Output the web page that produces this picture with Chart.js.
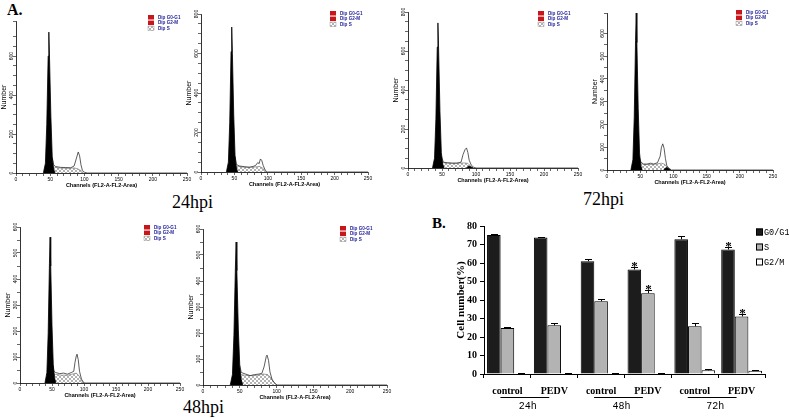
<!DOCTYPE html>
<html>
<head>
<meta charset="utf-8">
<script src="https://cdn.jsdelivr.net/npm/chart.js@4.4.1/dist/chart.umd.min.js"></script>
<style>
body { margin: 0; background: #fff; width: 789px; height: 418px; position: relative; overflow: hidden; }
canvas { position: absolute; }
.lbl { position: absolute; font-family: "Liberation Serif", serif; color: #000; line-height: 1; white-space: nowrap; }
</style>
</head>
<body>
<div class="lbl" style="left:7px;top:2px;font-size:16px;font-weight:bold">A.</div>
<div class="lbl" style="left:172px;top:193px;font-size:18px">24hpi</div>
<div class="lbl" style="left:583px;top:190px;font-size:18px">72hpi</div>
<div class="lbl" style="left:183px;top:398px;font-size:18px">48hpi</div>
<div class="lbl" style="left:432px;top:216px;font-size:15px;font-weight:bold">B.</div>
<canvas id="barChart" width="349" height="203" style="left:440px;top:215px"></canvas>
<script>
// ---- panel A: DNA histograms, points are [channel, count] ----
const legendLabels = ['Dip G0-G1', 'Dip G2-M', 'Dip S'];
const channelTicks = [0, 50, 100, 150, 200, 250];

// 24hpi control
const h24cG1 = [[40,0],[43,50],[45,250],[47,600],[48,723],[49,590],[51,290],[53,80],[55,20],[57,0]];
const h24cS = [[50,0],[52,34],[56,30],[62,26],[70,25],[78,24],[85,26],[90,22],[95,12],[99,0]];
const h24cTot = [[53,80],[55,42],[58,33],[65,29],[72,28],[80,27],[85,36],[88,72],[91,108],[93,88],[95,42],[97,14],[100,4],[104,0],[250,0]];
const h24cG2 = [];
// 24hpi PEDV
const h24pG1 = [[38,0],[41,50],[43,250],[45,610],[46,734],[47,600],[49,290],[51,80],[53,20],[55,0]];
const h24pS = [[49,0],[51,30],[56,28],[65,24],[75,24],[82,26],[88,28],[93,18],[97,0]];
const h24pTot = [[51,80],[53,38],[58,30],[65,27],[72,24],[78,28],[82,34],[85,48],[87,42],[89,66],[91,58],[93,34],[96,10],[99,0],[250,0]];
const h24pG2 = [];
// 72hpi control
const h72cG1 = [[36,0],[39,50],[41,250],[43,620],[44,744],[45,610],[47,290],[49,80],[51,20],[53,0]];
const h72cS = [[47,0],[49,28],[55,26],[65,24],[75,25],[82,26],[88,24],[92,10],[95,0]];
const h72cTot = [[49,60],[52,30],[58,27],[65,25],[72,25],[78,30],[81,70],[84,95],[86,103],[88,80],[90,40],[93,15],[96,5],[100,0],[250,0]];
const h72cG2 = [[86,0],[88,7],[90,10],[93,5],[96,0]];
// 72hpi PEDV
const h72pG1 = [[36,0],[39,45],[41,230],[43,570],[44,690],[45,560],[47,270],[49,75],[51,18],[53,0]];
const h72pS = [[47,0],[49,30],[55,25],[65,24],[75,26],[82,30],[87,25],[91,10],[94,0]];
const h72pTot = [[48,60],[51,35],[55,26],[60,26],[66,30],[70,26],[76,32],[80,60],[82,100],[84,115],[86,95],[88,50],[90,20],[93,8],[97,0],[250,0]];
const h72pG2 = [[85,0],[88,8],[90,11],[93,6],[96,0]];
// 48hpi control
const h48cG1 = [[39,0],[42,40],[44,190],[46,460],[47,561],[48,450],[50,220],[52,70],[54,20],[56,0]];
const h48cS = [[49,0],[51,35],[56,33],[65,30],[75,30],[83,35],[88,38],[92,28],[96,10],[99,0]];
const h48cTot = [[51,70],[53,45],[56,40],[62,36],[68,38],[74,34],[80,40],[84,45],[86,80],[88,105],[89,111],[91,90],[93,45],[96,15],[100,0],[250,0]];
const h48cG2 = [];
// 48hpi PEDV
const h48pG1 = [[37,0],[40,40],[42,190],[44,450],[45,550],[46,440],[48,215],[50,70],[52,20],[54,0]];
const h48pS = [[48,0],[50,40],[56,38],[65,36],[75,38],[82,42],[88,40],[93,25],[97,8],[100,0]];
const h48pTot = [[50,75],[52,48],[58,42],[64,36],[70,40],[76,42],[80,45],[83,70],[86,110],[87,115],[89,95],[91,50],[94,20],[98,5],[101,0],[250,0]];
const h48pG2 = [];

// ---- panel B: cell cycle percentages ----
const groups = ['24h', '48h', '72h'];
const treatments = ['control', 'PEDV', 'control', 'PEDV', 'control', 'PEDV'];
const phaseNames = ['G0/G1', 'S', 'G2/M'];
const g0g1 = [75.1, 73.8, 61.0, 56.5, 72.8, 67.3];
const sPhase = [24.9, 26.3, 39.3, 43.7, 25.8, 31.1];
const g2m = [0.3, 0.3, 0.3, 0.3, 2.0, 1.8];
const g0g1Err = [0.5, 0.5, 1.4, 1.3, 1.8, 1.1];
const sErr = [0.7, 1.1, 1.1, 1.6, 1.6, 1.4];
const g2mErr = [0.1, 0.1, 0.1, 0.1, 0.5, 0.1];
const g0g1Sig = [0, 0, 0, 1, 0, 1];
const sSig = [0, 0, 0, 1, 0, 1];
const g2mSig = [0, 0, 0, 0, 0, 0];

Chart.defaults.font.family = '"Liberation Sans", Arial, sans-serif';
Chart.defaults.color = '#000';

// crosshatch for the S phase area
const pc = document.createElement('canvas');
pc.width = 4; pc.height = 4;
const pg = pc.getContext('2d');
pg.strokeStyle = '#808080';
pg.lineWidth = 0.6;
pg.beginPath();
pg.moveTo(0, 4); pg.lineTo(4, 0);
pg.moveTo(0, 0); pg.lineTo(4, 4);
pg.stroke();
const hatch = pg.createPattern(pc, 'repeat');

const insetLegend = {
  id: 'insetLegend',
  afterDraw(chart, args, opts) {
    const ctx = chart.ctx;
    ctx.save();
    legendLabels.forEach((t, i) => {
      const y = opts.y + i * 5.6;
      ctx.fillStyle = i < 2 ? '#c8161d' : hatch;
      ctx.fillRect(opts.x, y, 6, 4.5);
      if (i == 2) {
        ctx.strokeStyle = '#999';
        ctx.lineWidth = 0.5;
        ctx.strokeRect(opts.x, y, 6, 4.5);
      }
      ctx.fillStyle = '#22229a';
      ctx.font = 'bold 4.6px "Liberation Sans"';
      ctx.textBaseline = 'middle';
      ctx.fillText(t, opts.x + 10, y + 2.4);
    });
    ctx.restore();
  }
};

const histPanels = [
  {x0: 16,  x1: 187, base: 173, ppu: 0.195,  yMax: 780, step: 200, lx: 148, ly: 15,  g1: h24cG1, s: h24cS, tot: h24cTot, g2: h24cG2},
  {x0: 201, x1: 368, base: 172, ppu: 0.1975, yMax: 800, step: 200, lx: 330, ly: 11,  g1: h24pG1, s: h24pS, tot: h24pTot, g2: h24pG2},
  {x0: 408, x1: 578, base: 168, ppu: 0.195,  yMax: 800, step: 200, lx: 538, ly: 11,  g1: h72cG1, s: h72cS, tot: h72cTot, g2: h72cG2},
  {x0: 607, x1: 773, base: 170, ppu: 0.227,  yMax: 690, step: 100, lx: 736, ly: 10,  g1: h72pG1, s: h72pS, tot: h72pTot, g2: h72pG2},
  {x0: 20,  x1: 180, base: 383, ppu: 0.26,   yMax: 600, step: 100, lx: 144, ly: 225, g1: h48cG1, s: h48cS, tot: h48cTot, g2: h48cG2},
  {x0: 203, x1: 387, base: 385, ppu: 0.26,   yMax: 600, step: 100, lx: 340, ly: 226, g1: h48pG1, s: h48pS, tot: h48pTot, g2: h48pG2}
];

function histChart(p) {
  const left = p.x0 - 16;
  const top = Math.round(p.base - p.yMax * p.ppu) - 10;
  const width = p.x1 - left + 8;
  const height = p.base + 16 - top;
  const cv = document.createElement('canvas');
  cv.width = width; cv.height = height;
  cv.style.left = left + 'px';
  cv.style.top = top + 'px';
  document.body.appendChild(cv);
  new Chart(cv, {
    type: 'line',
    data: {
      datasets: [
        {data: p.g1, backgroundColor: '#000', borderColor: '#000', borderWidth: 0.8, fill: 'origin'},
        {data: p.g2, backgroundColor: '#000', borderColor: '#000', borderWidth: 0.8, fill: 'origin'},
        {data: p.tot, borderColor: '#333', borderWidth: 0.8, fill: false},
        {data: p.s, backgroundColor: hatch, borderColor: '#666', borderWidth: 0.6, fill: 'origin'}
      ]
    },
    options: {
      responsive: false,
      animation: false,
      devicePixelRatio: 1,
      events: [],
      elements: {point: {radius: 0}, line: {tension: 0}},
      layout: {autoPadding: false, padding: {left: 0, right: 8, top: 10, bottom: 0}},
      plugins: {
        legend: {display: false},
        tooltip: {enabled: false},
        insetLegend: {x: p.lx - left, y: p.ly - top}
      },
      scales: {
        x: {
          type: 'linear', min: 0, max: 250,
          afterFit(s) { s.height = 16; },
          ticks: {stepSize: 10, autoSkip: false, maxRotation: 0, padding: 1, font: {size: 5},
                  callback: v => channelTicks.includes(v) ? v : ''},
          grid: {drawOnChartArea: false, tickLength: 3, color: '#000', lineWidth: 0.6},
          border: {color: '#000', width: 0.8},
          title: {display: true, text: 'Channels (FL2-A-FL2-Area)', padding: 0, font: {size: 5.5, weight: 'bold'}}
        },
        y: {
          min: 0, max: p.yMax,
          afterFit(s) { s.width = 16; },
          ticks: {stepSize: 50, autoSkip: false, minRotation: 90, maxRotation: 90, crossAlign: 'center', padding: -3,
                  font: {size: 5}, callback: v => v % p.step === 0 ? v : ''},
          grid: {drawOnChartArea: false, tickLength: 3, color: '#000', lineWidth: 0.6},
          border: {color: '#000', width: 0.8},
          title: {display: true, text: 'Number', padding: 0, font: {size: 7}}
        }
      }
    },
    plugins: [insetLegend]
  });
}
histPanels.forEach(histChart);

// ---- panel B ----
const barExtras = {
  id: 'barExtras',
  afterDatasetsDraw(chart) {
    const ctx = chart.ctx;
    const ys = chart.scales.y;
    const errs = [g0g1Err, sErr, g2mErr];
    const sigs = [g0g1Sig, sSig, g2mSig];
    ctx.save();
    ctx.strokeStyle = '#000';
    ctx.fillStyle = '#000';
    ctx.lineWidth = 1;
    chart.data.datasets.forEach((ds, d) => {
      chart.getDatasetMeta(d).data.forEach((bar, i) => {
        const x = Math.round(bar.x) + 0.5;
        const top = Math.round(ys.getPixelForValue(ds.data[i] + errs[d][i])) + 0.5;
        ctx.beginPath();
        ctx.moveTo(x, bar.y);
        ctx.lineTo(x, top);
        ctx.moveTo(x - 3.5, top);
        ctx.lineTo(x + 3.5, top);
        ctx.stroke();
        if (sigs[d][i]) {
          ctx.font = 'bold 13px "Liberation Serif"';
          ctx.textAlign = 'center';
          ctx.textBaseline = 'alphabetic';
          ctx.fillText('*', x, top + 2);
        }
      });
    });
    ctx.restore();
  },
  afterDraw(chart) {
    const ctx = chart.ctx;
    const xs = chart.scales.x;
    ctx.save();
    ctx.strokeStyle = '#000';
    ctx.fillStyle = '#000';
    ctx.lineWidth = 1;
    ctx.font = '10px "Liberation Mono", monospace';
    ctx.textAlign = 'center';
    ctx.textBaseline = 'middle';
    groups.forEach((g, k) => {
      const a = xs.getPixelForValue(2 * k);
      const b = xs.getPixelForValue(2 * k + 1);
      ctx.beginPath();
      ctx.moveTo(a - 7, 182.5);
      ctx.lineTo(b - 5, 182.5);
      ctx.stroke();
      ctx.fillText(g, (a + b) / 2 - 3, 191);
    });
    // legend on the right
    const lx = 316;
    ctx.textAlign = 'left';
    ctx.font = '8.5px "Liberation Mono", monospace';
    chart.data.datasets.forEach((ds, d) => {
      const y = 17 + d * 15;
      ctx.fillStyle = ds.backgroundColor;
      ctx.fillRect(lx, y - 3.5, 7, 7);
      ctx.strokeRect(lx + 0.5, y - 3, 6, 6);
      ctx.fillStyle = '#000';
      ctx.fillText(phaseNames[d], lx + 8, y + 0.5);
    });
    ctx.restore();
  }
};

new Chart(document.getElementById('barChart'), {
  type: 'bar',
  data: {
    labels: treatments,
    datasets: [
      {label: phaseNames[0], data: g0g1, backgroundColor: '#1c1c1c', borderColor: '#000', borderWidth: 1},
      {label: phaseNames[1], data: sPhase, backgroundColor: '#b3b3b3', borderColor: '#000', borderWidth: 1},
      {label: phaseNames[2], data: g2m, backgroundColor: '#ffffff', borderColor: '#000', borderWidth: 1}
    ]
  },
  options: {
    responsive: false,
    animation: false,
    devicePixelRatio: 1,
    events: [],
    barPercentage: 1,
    categoryPercentage: 0.87,
    layout: {autoPadding: false, padding: {left: 15, right: 24, top: 11, bottom: 0}},
    plugins: {legend: {display: false}, tooltip: {enabled: false}},
    scales: {
      x: {
        afterFit(s) { s.height = 44; },
        ticks: {padding: 7, font: {family: '"Liberation Serif", serif', size: 10, weight: 'bold'}},
        grid: {drawOnChartArea: false, offset: true, tickLength: 4, color: '#000'},
        border: {color: '#000', width: 1}
      },
      y: {
        min: 0, max: 80,
        afterFit(s) { s.width = 29; },
        ticks: {stepSize: 10, padding: 3, font: {family: '"Liberation Serif", serif', size: 10, weight: 'bold'}},
        grid: {drawOnChartArea: false, tickLength: 4, color: '#000'},
        border: {color: '#000', width: 1},
        title: {display: true, text: 'Cell number(%)', padding: 0,
                font: {family: '"Liberation Serif", serif', size: 11, weight: 'bold'}}
      }
    }
  },
  plugins: [barExtras]
});
</script>
</body>
</html>
